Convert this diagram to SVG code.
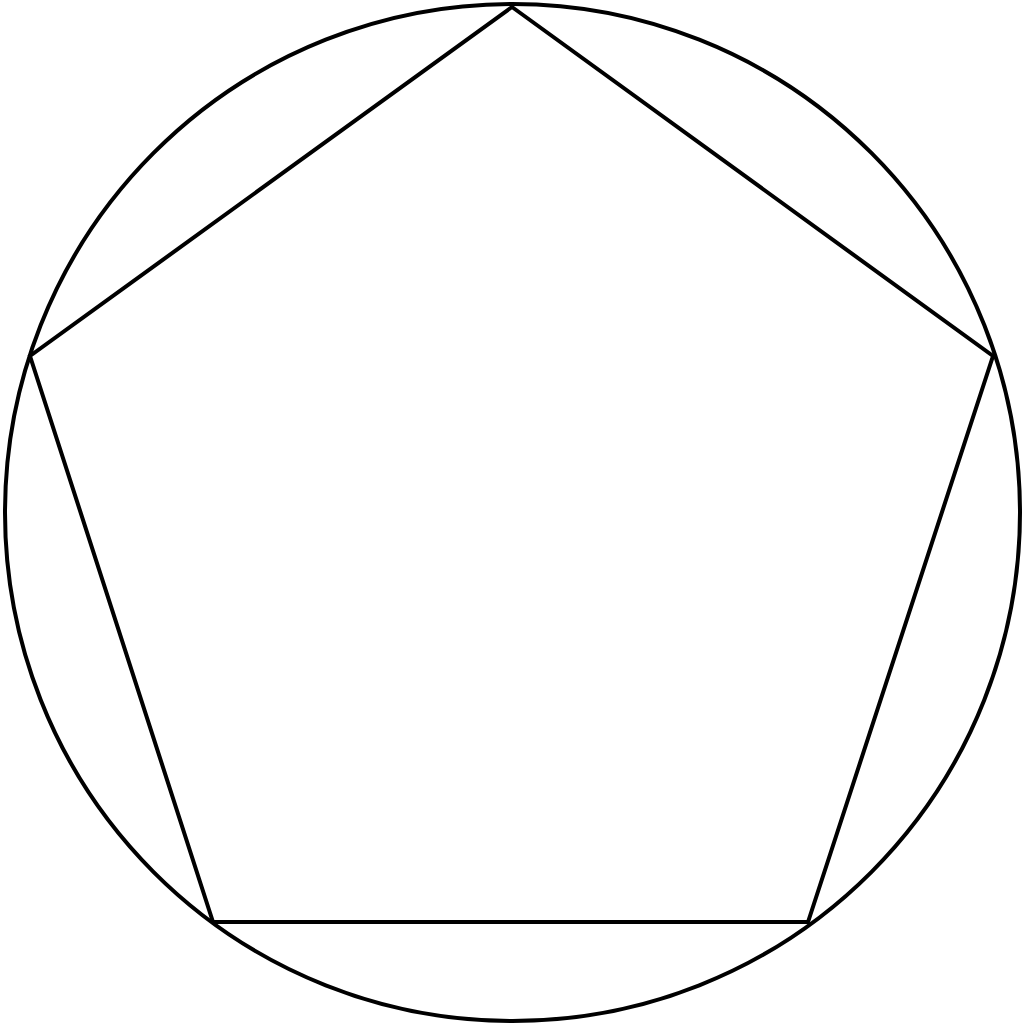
<svg xmlns="http://www.w3.org/2000/svg" width="1024" height="1024" viewBox="0 0 1024 1024">
<style>
.s{fill:none;stroke:#000;stroke-width:4;stroke-linejoin:miter}
</style>
<rect width="1024" height="1024" fill="#fff"/>
<g id="circle"><ellipse class="s" cx="512.5" cy="512.5" rx="507.5" ry="508.5"/></g>
<g id="pentagon"><polygon class="s" points="512,7 993,356 808,922 213,922 30,356"/></g>
</svg>
